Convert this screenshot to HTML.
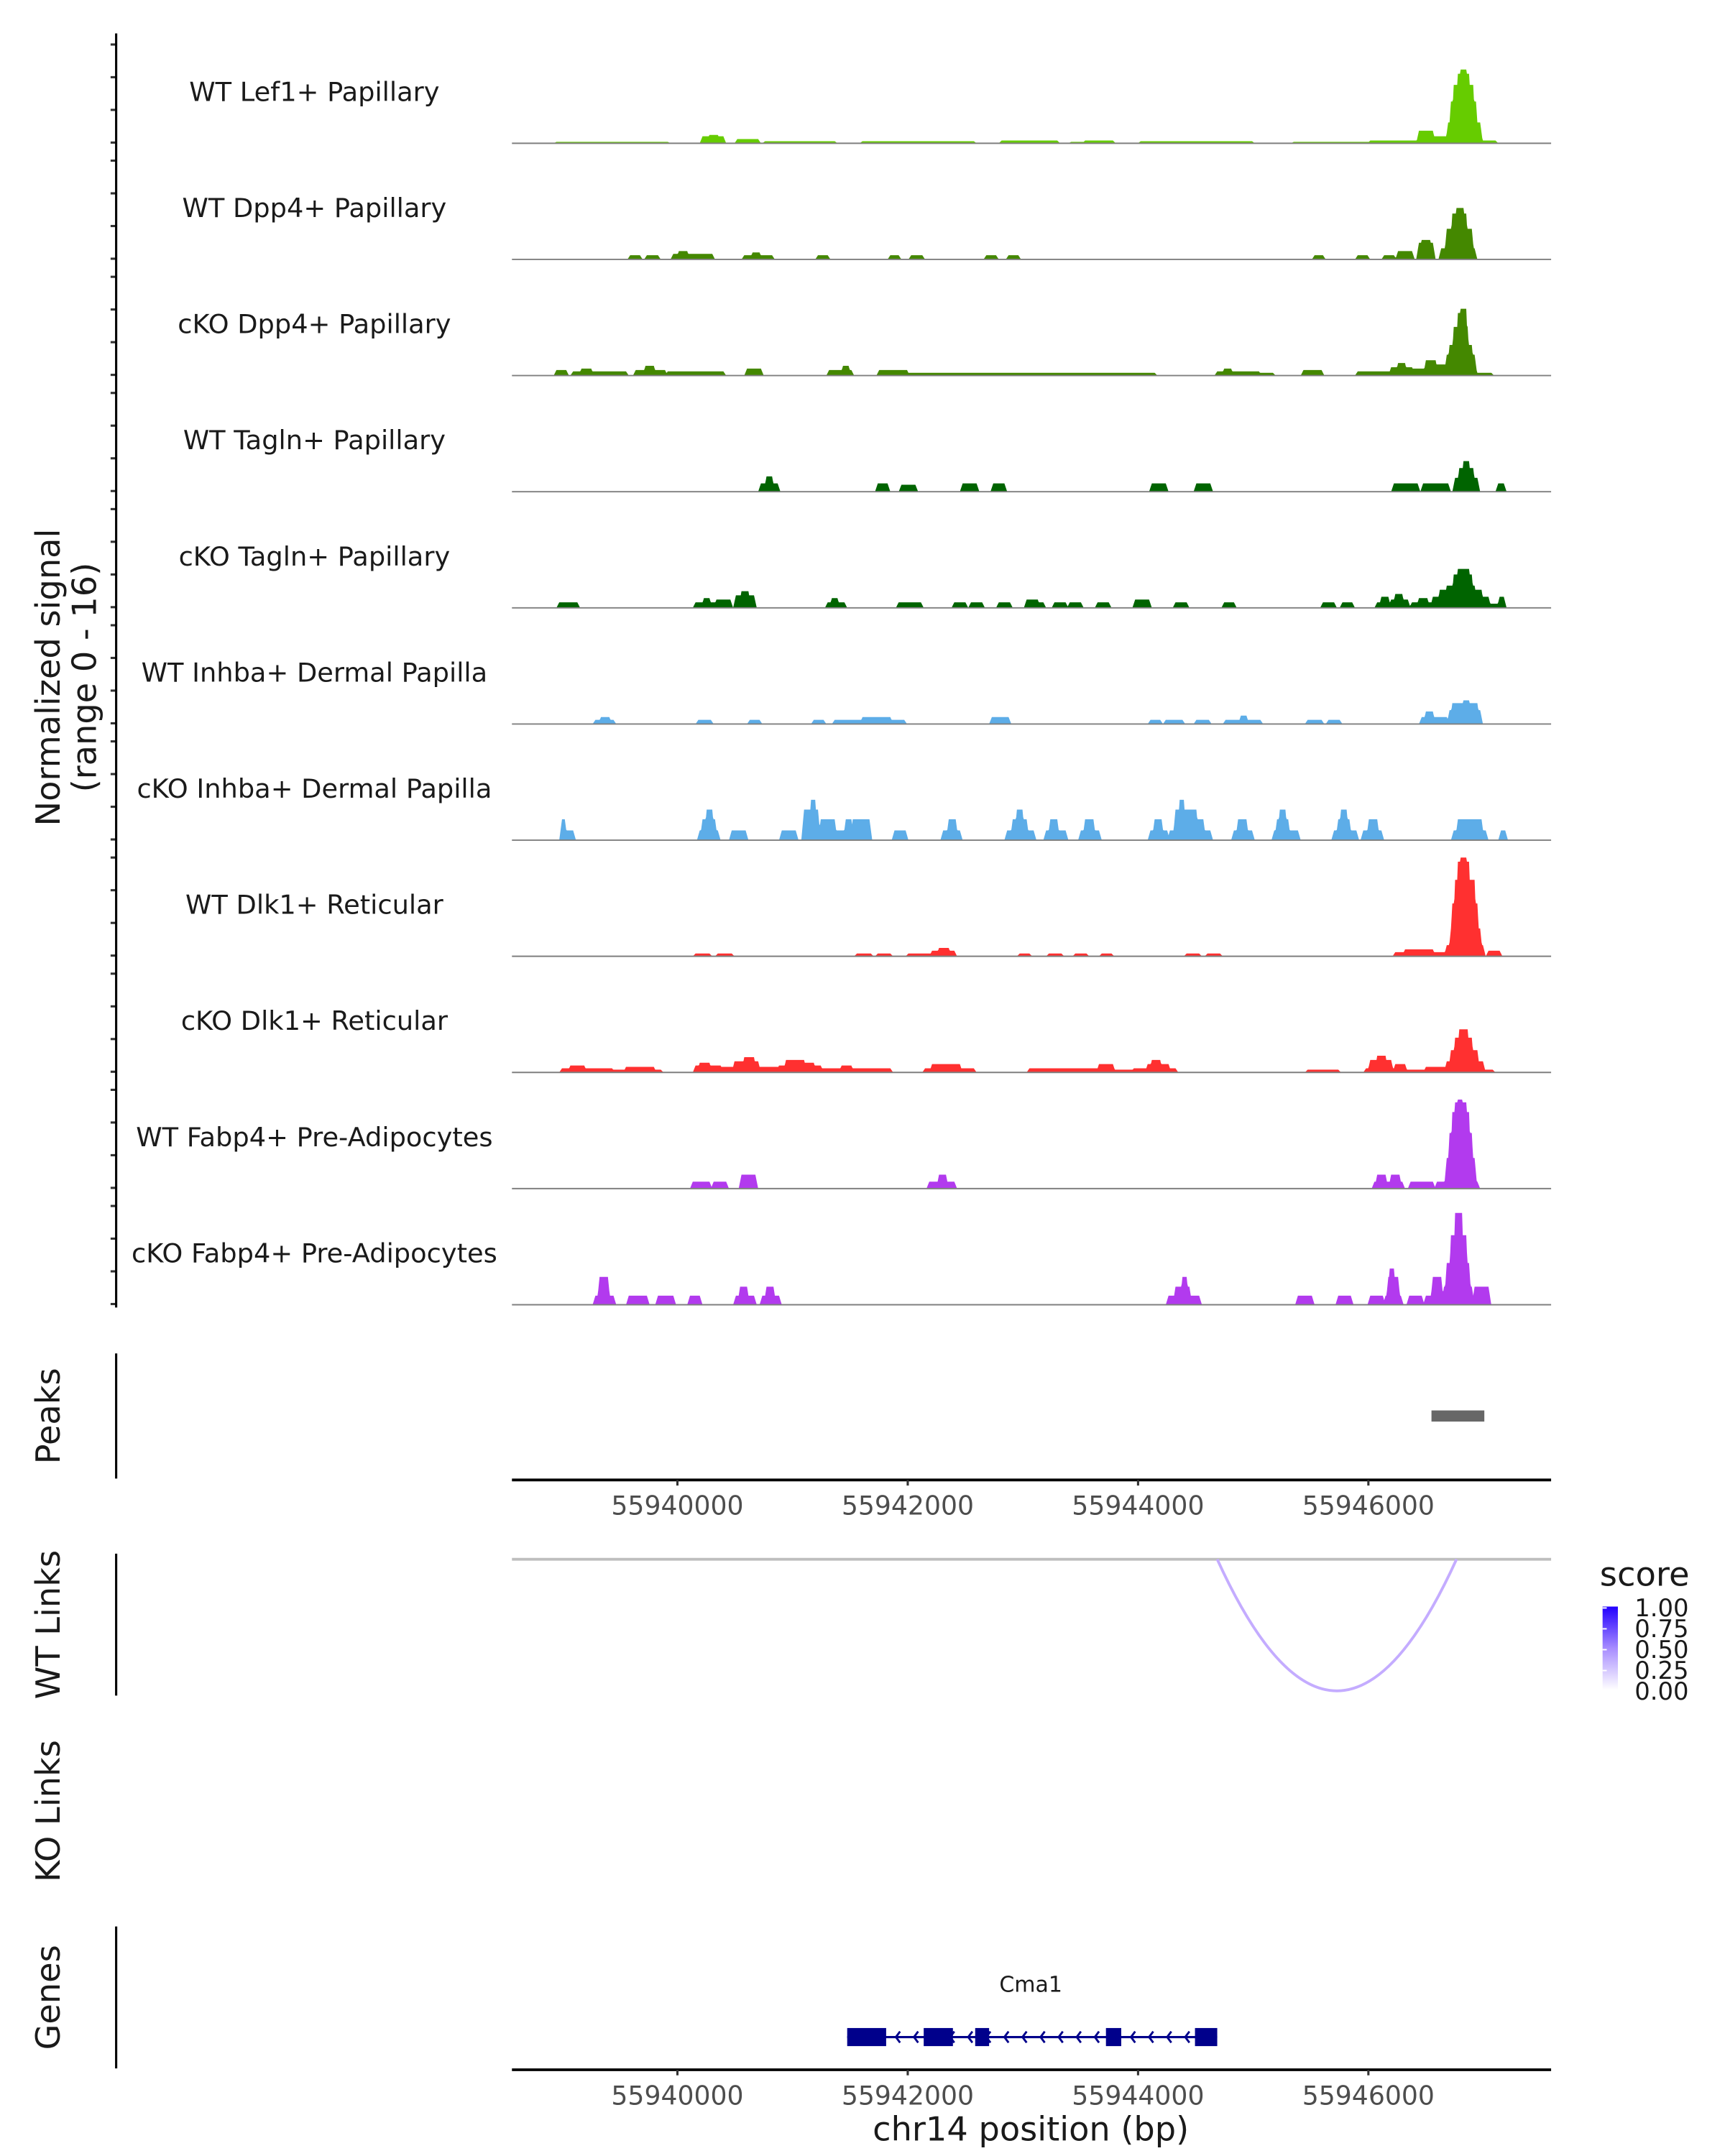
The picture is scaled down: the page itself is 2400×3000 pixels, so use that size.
<!DOCTYPE html>
<html><head><meta charset="utf-8"><style>
html,body{margin:0;padding:0;background:#fff;}
svg{display:block;font-family:"DejaVu Sans","Liberation Sans",sans-serif;}
</style></head><body>
<svg id="chart" xmlns="http://www.w3.org/2000/svg" width="2400" height="3000" viewBox="0 0 1240 1550">
<g id="tracks"></g>
<g id="axes"></g>
<text transform="translate(43,487) rotate(-90)" text-anchor="middle" font-size="23.9" fill="#1a1a1a">Normalized signal</text>
<text transform="translate(69,487) rotate(-90)" text-anchor="middle" font-size="23.9" fill="#1a1a1a">(range 0 - 16)</text>
<text transform="translate(43,1018) rotate(-90)" text-anchor="middle" font-size="23.9" fill="#1a1a1a">Peaks</text>
<text transform="translate(43,1168) rotate(-90)" text-anchor="middle" font-size="23.9" fill="#1a1a1a">WT Links</text>
<text transform="translate(43,1302) rotate(-90)" text-anchor="middle" font-size="23.9" fill="#1a1a1a">KO Links</text>
<text transform="translate(43,1436) rotate(-90)" text-anchor="middle" font-size="23.9" fill="#1a1a1a">Genes</text>
<text x="741" y="1539" text-anchor="middle" font-size="23.9" fill="#1a1a1a">chr14 position (bp)</text>
<g>
<defs><linearGradient id="sg" x1="0" y1="0" x2="0" y2="1"><stop offset="0" stop-color="#2200ff"/><stop offset="0.5" stop-color="#a78cff"/><stop offset="1" stop-color="#ffffff"/></linearGradient></defs>
<text x="1150" y="1140" font-size="24" fill="#1a1a1a">score</text>
<rect x="1152" y="1155" width="11" height="60" fill="url(#sg)"/>
<g id="legend-labels"></g>
</g>
</svg>
<script>
const trackNames = ["WT Lef1+ Papillary","WT Dpp4+ Papillary","cKO Dpp4+ Papillary","WT Tagln+ Papillary","cKO Tagln+ Papillary","WT Inhba+ Dermal Papilla","cKO Inhba+ Dermal Papilla","WT Dlk1+ Reticular","cKO Dlk1+ Reticular","WT Fabp4+ Pre-Adipocytes","cKO Fabp4+ Pre-Adipocytes"];
const trackColors = ["#66cc00","#448800","#448800","#006400","#006400","#5dade8","#5dade8","#ff3030","#ff3030","#b23aee","#b23aee"];
// genomic bins (12.08 bp each) starting at regionStart; blocks [startBin,endBin,signal]
const regionStart = 55938563;
const binSize = 12.08;
const t1 = [[32,112,.2],[137,152,1],[142,148,1.2],[162,177,.6],[182,232,.3],[252,332,.3],[352,392,.4],[402,432,.2],[412,432,.4],[452,512,.3],[512,532,.3],[562,622,.2],[617,652,.4],[652,662,1.8],[662,672,1],[673,696,3],[675,693,6],[677,691,8.4],[680,688,10],[682,686,10.6],[696,707,.4]];
const t2 = [[85,92,.6],[97,105,.6],[116,130,.8],[120,126,1.2],[130,144,.8],[167,187,.6],[173,178,1],[220,227,.6],[272,278,.6],[287,295,.6],[341,348,.6],[357,364,.6],[577,583,.6],[608,615,.6],[627,634,.6],[637,647,1.2],[652,662,2.4],[654,660,2.8],[668,692,1.6],[672,690,4.4],[676,686,6.6],[679,684,7.4]];
const t3 = [[32,39,.8],[44,82,.6],[50,57,1],[89,110,.8],[96,102,1.4],[112,152,.6],[169,179,1],[228,244,.8],[238,242,1.4],[264,284,.8],[282,402,.4],[392,462,.4],[507,537,.6],[512,517,1],[534,547,.4],[569,582,.8],[608,632,.6],[632,647,1.2],[637,642,1.8],[647,662,1],[657,664,2.2],[664,672,1.6],[672,692,3],[674,690,4.4],[677,687,7],[680,684,9],[682,686,9.6],[692,704,.4]];
const t4 = [[179,191,1.2],[183,187,2.2],[263,270,1.2],[280,290,1],[324,334,1.2],[346,354,1.2],[460,470,1.2],[492,502,1.2],[634,651,1.2],[655,673,1.2],[678,694,2],[681,691,3.4],[684,688,4.4],[709,713,1.2]];
const t5 = [[34,47,.8],[132,146,.8],[138,142,1.4],[147,157,1.2],[161,174,1.8],[165,170,2.4],[227,239,.8],[230,234,1.4],[278,294,.8],[318,326,.8],[330,338,.8],[350,358,.8],[370,378,1.2],[374,382,.8],[390,398,.8],[401,409,.8],[421,429,.8],[448,458,1.2],[477,485,.8],[512,519,.8],[583,591,.8],[597,604,.8],[622,632,.8],[625,630,1.6],[632,644,1.2],[635,640,2],[647,662,.8],[652,658,1.4],[662,702,1.6],[667,697,2.6],[672,692,3.2],[677,690,4.8],[680,688,5.6],[702,712,.6],[710,713,1.6]];
const t6 = [[60,73,.6],[64,70,1],[134,143,.6],[171,178,.6],[217,224,.6],[232,282,.6],[252,272,1],[345,357,1],[459,466,.6],[470,482,.6],[492,501,.6],[513,520,.6],[520,538,.6],[524,528,1.2],[572,582,.6],[587,595,.6],[654,672,1],[657,662,1.8],[674,696,2],[676,694,3],[684,688,3.4]];
const t7 = [[36,44,1.4],[36,38,3],[135,148,1.4],[137,146,3],[140,144,4.4],[158,168,1.4],[194,204,1.4],[210,237,1.4],[210,220,4.4],[215,218,5.8],[222,232,3],[237,244,1.4],[240,244,3],[245,252,3],[250,257,3],[275,283,1.4],[310,322,1.4],[314,319,3],[356,375,1.4],[360,370,3],[363,367,4.4],[384,398,1.4],[387,392,3],[409,422,1.4],[412,418,3],[459,471,1.4],[462,467,3],[473,502,1.4],[477,492,4.4],[480,483,5.8],[487,497,3],[519,532,1.4],[522,528,3],[548,565,1.4],[550,558,3],[552,556,4.4],[591,607,1.4],[594,602,3],[596,600,4.4],[612,625,1.4],[616,622,3],[677,700,1.4],[680,697,3],[711,714,1.4]];
const t8 = [[132,142,.4],[148,158,.4],[248,258,.4],[263,272,.4],[285,312,.4],[302,318,.8],[307,314,1.2],[365,372,.4],[386,395,.4],[405,413,.4],[424,431,.4],[485,494,.4],[500,509,.4],[635,672,.6],[642,662,1],[672,698,1.6],[675,696,4],[676,694,7.6],[678,692,11],[680,688,13.6],[682,686,14.2],[702,710,.8]];
const t9 = [[36,72,.6],[42,52,1],[72,107,.4],[82,102,.8],[132,150,1],[135,142,1.4],[150,192,.8],[160,177,1.6],[167,174,2.2],[192,222,1],[197,210,1.8],[207,217,1.4],[222,242,.6],[237,244,1],[242,272,.6],[297,332,.6],[302,322,1.2],[372,432,.6],[422,432,1.2],[432,447,.4],[447,477,.6],[457,472,1.2],[460,466,1.8],[572,594,.4],[614,642,.6],[617,632,1.8],[622,628,2.4],[635,642,1.2],[642,672,.4],[657,672,.8],[672,698,1.6],[675,694,3.2],[678,690,5],[681,687,6.2],[692,705,.4]];
const t10 = [[130,142,1],[145,154,1],[165,175,2],[300,318,1],[307,312,2],[620,640,1],[622,628,2],[632,638,2],[646,662,1],[665,694,1],[672,692,4.4],[674,690,8],[676,688,11],[678,686,12.4],[680,683,12.8]];
const t11 = [[60,73,1.3],[63,69,4],[84,97,1.3],[105,116,1.3],[128,135,1.3],[161,174,1.3],[164,169,2.6],[180,192,1.3],[183,188,2.6],[472,494,1.3],[477,487,2.6],[482,485,4],[565,575,1.3],[594,603,1.3],[617,626,1.3],[628,639,1.3],[630,637,4],[631,634,5.2],[645,654,1.3],[657,702,1.3],[662,668,4],[670,690,2.6],[672,688,6],[675,686,10],[678,683,13.2],[692,702,2.6]];
const tickValues = [55940000,55942000,55944000,55946000];
const tickLabels = ["55940000","55942000","55944000","55946000"];
const peakBins = [[661,699]];
const geneIntron = [241,507];
const geneExons = [[241,269],[296,317],[333,343],[427,438],[491,507]];
const links = [[507,679,0.3]];
const legendValues = ["1.00","0.75","0.50","0.25","0.00"];

const NS = "http://www.w3.org/2000/svg";
const tracksData = [t1,t2,t3,t4,t5,t6,t7,t8,t9,t10,t11];
const X0 = 368, X1 = 1115, nBins = 747;
function xs(bin){ return X0 + bin; }
function xbp(bp){ return xs((bp - regionStart) / binSize); }
function ys(v){ return v * 5; }
function mk(tag, attrs, parent){ const e = document.createElementNS(NS, tag); for (const k in attrs) e.setAttribute(k, attrs[k]); parent.appendChild(e); return e; }
const G = document.getElementById("tracks");
const A = document.getElementById("axes");
const base0 = 103, step = 83.5;

tracksData.forEach(function(blocks, i){
  const b = base0 + i * step;
  const g = mk("g", {}, G);
  
  
  let d = "M" + xs(0) + "," + b;
  for (let s = 0; s <= nBins; s += 0.5) {
    let v = 0;
    blocks.forEach(function(bl){
      let f = 0;
      if (s >= bl[0] && s <= bl[1]) f = 1;
      else if (s > bl[0] - 2 && s < bl[0]) f = 1 - (bl[0] - s) / 2;
      else if (s > bl[1] && s < bl[1] + 2) f = 1 - (s - bl[1]) / 2;
      v = Math.max(v, f * bl[2]);
    });
    d += "L" + xs(s).toFixed(1) + "," + (b - ys(v)).toFixed(2);
  }
  d += "L" + xs(nBins) + "," + b + "Z";
  const p = mk("path", {d: d, fill: trackColors[i]}, g);
  
  
  const bl = mk("line", {x1: X0, x2: X1, y1: b, y2: b, stroke: "#7f7f7f", "stroke-width": 1}, g);
  
  
  const t = mk("text", {x: 226, y: b - 30.5, "text-anchor": "middle", "font-size": 19, fill: "#1a1a1a"}, g);
  t.textContent = trackNames[i];
  
  
  for (let k = 0; k < 4; k++) {
    const ty = b - 0.5 - k * 23.5;
    const tk = mk("line", {x1: 79.5, x2: 83.5, y1: ty, y2: ty, stroke: "#333", "stroke-width": 1.6}, A);
    
    
  }
});
function vline(y1, y2, name){
  const l = mk("line", {x1: 83.5, x2: 83.5, y1: y1, y2: y2, stroke: "#000", "stroke-width": 1.6}, A);
  
  
}
vline(24, 940, 'signal-y-axis');
vline(973, 1063, 'peaks-y-axis');
vline(1117, 1219, 'wt-links-y-axis');
vline(1385, 1487, 'genes-y-axis');

peakBins.forEach(function(pk){
  const r = mk("rect", {x: xs(pk[0]), y: 1014, width: xs(pk[1]) - xs(pk[0]), height: 8, fill: "#676767"}, A);
  
  
});
function xAxis(y, name){
  const ax = mk("line", {x1: X0, x2: X1, y1: y, y2: y, stroke: "#000", "stroke-width": 2}, A);
  
  
  tickValues.forEach(function(v, i){
    const x = xbp(v);
    const tk = mk("line", {x1: x, x2: x, y1: y, y2: y + 4, stroke: "#333", "stroke-width": 1.6}, A);
    
    
    const tl = mk("text", {x: x, y: y + 25, "text-anchor": "middle", "font-size": 18.7, fill: "#4d4d4d"}, A);
    tl.textContent = tickLabels[i];
    
    
  });
}
xAxis(1064, 'peaks-x-axis');
xAxis(1488, 'genes-x-axis');

const lb = mk("line", {x1: X0, x2: X1, y1: 1121, y2: 1121, stroke: "#bebebe", "stroke-width": 2}, A);


links.forEach(function(lk){
  const xa = xs(lk[0]), xb = xs(lk[1]);
  const depth = (xb - xa) * 0.55;
  const c = 1121 + depth * 2;
  const p = mk("path", {d: "M" + xa + ",1121 Q" + ((xa + xb) / 2) + "," + c + " " + xb + ",1121", fill: "none", stroke: "#c4acff", "stroke-width": 2}, A);
  
  
});

const gl = mk("line", {x1: xs(geneIntron[0]), x2: xs(geneIntron[1]), y1: 1464.5, y2: 1464.5, stroke: "#00008b", "stroke-width": 1.6}, A);


for (let x = xs(geneIntron[0]) + 22; x < xs(geneIntron[1]) - 4; x += 13) {
  const ch = mk("polyline", {points: (x + 3) + ",1460.5 " + x + ",1464.5 " + (x + 3) + ",1468.5", fill: "none", stroke: "#00008b", "stroke-width": 1.5}, A);
  
  
}
geneExons.forEach(function(ex){
  const r = mk("rect", {x: xs(ex[0]), y: 1458, width: xs(ex[1]) - xs(ex[0]), height: 13, fill: "#00008b"}, A);
  
  
});
const gn = mk("text", {x: 741, y: 1432, "text-anchor": "middle", "font-size": 15.5, fill: "#1a1a1a"}, A);
gn.textContent = "Cma1";



const LL = document.getElementById("legend-labels");
legendValues.forEach(function(v, i){
  const y = 1156 + i * 15;
  const tk = mk("line", {x1: 1152, x2: 1155, y1: y, y2: y, stroke: "#fff", "stroke-width": 1}, LL);
  
  
  const t = mk("text", {x: 1175, y: y + 6, "font-size": 17.5, fill: "#1a1a1a"}, LL);
  t.textContent = v;
  
  
});
</script>
</body></html>
